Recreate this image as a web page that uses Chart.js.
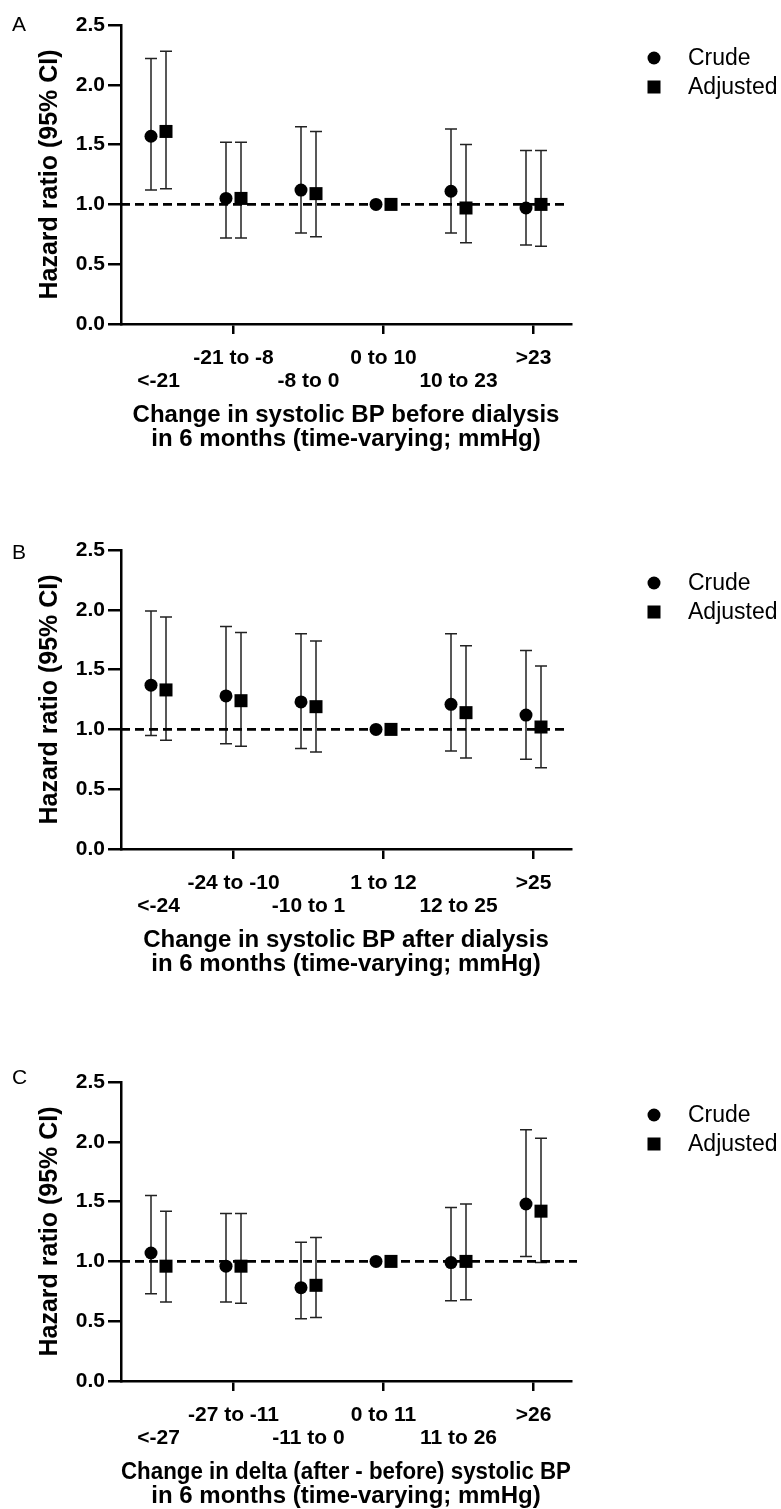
<!DOCTYPE html>
<html>
<head>
<meta charset="utf-8">
<script src="https://cdn.jsdelivr.net/npm/chart.js@4.4.1/dist/chart.umd.min.js"></script>
<style>
  body { margin: 0; background: #fff; width: 781px; height: 1509px; position: relative; overflow: hidden; }
  canvas { position: absolute; left: 0; }
</style>
</head>
<body>
<canvas id="chartA"></canvas>
<canvas id="chartB"></canvas>
<canvas id="chartC"></canvas>
<script>
// Panel A - systolic BP before dialysis
var catsA = ['<-21', '-21 to -8', '-8 to 0', '0 to 10', '10 to 23', '>23'];
var crudeA = [1.57, 1.05, 1.12, 1.00, 1.11, 0.97];
var crudeLoA = [1.12, 0.72, 0.76, null, 0.76, 0.66];
var crudeHiA = [2.22, 1.52, 1.65, null, 1.63, 1.45];
var adjA = [1.61, 1.05, 1.09, 1.00, 0.97, 1.00];
var adjLoA = [1.13, 0.72, 0.73, null, 0.68, 0.65];
var adjHiA = [2.28, 1.52, 1.61, null, 1.50, 1.45];

// Panel B - systolic BP after dialysis
var catsB = ['<-24', '-24 to -10', '-10 to 1', '1 to 12', '12 to 25', '>25'];
var crudeB = [1.37, 1.28, 1.23, 1.00, 1.21, 1.12];
var crudeLoB = [0.95, 0.88, 0.84, null, 0.82, 0.75];
var crudeHiB = [1.99, 1.86, 1.80, null, 1.80, 1.66];
var adjB = [1.33, 1.24, 1.19, 1.00, 1.14, 1.02];
var adjLoB = [0.91, 0.86, 0.81, null, 0.76, 0.68];
var adjHiB = [1.94, 1.81, 1.74, null, 1.70, 1.53];

// Panel C - delta (after - before)
var catsC = ['<-27', '-27 to -11', '-11 to 0', '0 to 11', '11 to 26', '>26'];
var crudeC = [1.07, 0.96, 0.78, 1.00, 0.99, 1.48];
var crudeLoC = [0.73, 0.66, 0.52, null, 0.67, 1.04];
var crudeHiC = [1.55, 1.40, 1.16, null, 1.45, 2.10];
var adjC = [0.96, 0.96, 0.80, 1.00, 1.00, 1.42];
var adjLoC = [0.66, 0.65, 0.53, null, 0.68, 0.99];
var adjHiC = [1.42, 1.40, 1.20, null, 1.48, 2.03];

var yTicks = [0, 0.5, 1.0, 1.5, 2.0, 2.5];
var refValue = 1.0;
var seriesNames = ['Crude', 'Adjusted'];

var FONT = "'Liberation Sans', Arial, sans-serif";
Chart.defaults.font.family = FONT;
Chart.defaults.color = '#000';

// error bars, drawn from each dataset's lo/hi arrays
var errorBars = {
    id: 'errorBars',
    beforeDatasetsDraw: function (chart) {
        var ctx = chart.ctx;
        var x = chart.scales.x, y = chart.scales.y;
        ctx.save();
        ctx.strokeStyle = '#222';
        ctx.lineWidth = 1.5;
        chart.data.datasets.forEach(function (ds) {
            if (!ds.errLo) return;
            ds.data.forEach(function (p, i) {
                if (ds.errLo[i] == null) return;
                var px = x.getPixelForValue(p.x);
                var y1 = y.getPixelForValue(ds.errLo[i]);
                var y2 = y.getPixelForValue(ds.errHi[i]);
                ctx.beginPath();
                ctx.moveTo(px, y1); ctx.lineTo(px, y2);
                ctx.moveTo(px - 6, y1); ctx.lineTo(px + 6, y1);
                ctx.moveTo(px - 6, y2); ctx.lineTo(px + 6, y2);
                ctx.stroke();
            });
        });
        ctx.restore();
    }
};

// panel letter + legend on the right
var sideText = {
    id: 'sideText',
    afterDraw: function (chart, args, opts) {
        var ctx = chart.ctx;
        ctx.save();
        ctx.fillStyle = '#000';
        ctx.font = '21px ' + FONT;
        ctx.textBaseline = 'alphabetic';
        ctx.fillText(opts.letter, 12, opts.letterY);
        ctx.font = '23px ' + FONT;
        ctx.textBaseline = 'middle';
        seriesNames.forEach(function (name, i) {
            var yy = opts.legendY + i * 29;
            if (i === 0) {
                ctx.beginPath();
                ctx.arc(654, yy, 6.5, 0, Math.PI * 2);
                ctx.fill();
            } else {
                ctx.fillRect(647.5, yy - 6.5, 13, 13);
            }
            ctx.fillText(name, 688, yy + 1);
        });
        ctx.restore();
    }
};

function pts(vals, shift) {
    return vals.map(function (v, i) { return { x: i + 1 + shift, y: v }; });
}

function makeChart(id, top, letter, letterY, cats, crude, crudeLo, crudeHi, adj, adjLo, adjHi, refEnd, title) {
    var canvas = document.getElementById(id);
    canvas.style.top = (top - 25) + 'px';
    canvas.width = 781;
    canvas.height = 456;
    return new Chart(canvas.getContext('2d'), {
        type: 'scatter',
        data: {
            datasets: [{
                label: seriesNames[0],
                data: pts(crude, -0.1),
                errLo: crudeLo, errHi: crudeHi,
                pointStyle: 'circle',
                pointRadius: 6.5,
                backgroundColor: '#000',
                borderWidth: 0,
                order: 1
            }, {
                label: seriesNames[1],
                data: pts(adj, 0.1),
                errLo: adjLo, errHi: adjHi,
                pointStyle: 'rect',
                pointRadius: 9.2,
                backgroundColor: '#000',
                borderWidth: 0,
                order: 1
            }, {
                label: 'ref',
                type: 'line',
                data: [{ x: 0.5, y: refValue }, { x: refEnd, y: refValue }],
                borderColor: '#000',
                borderWidth: 2.6,
                borderDash: [9, 5],
                pointRadius: 0,
                clip: false,
                order: 3
            }]
        },
        options: {
            responsive: false,
            animation: false,
            devicePixelRatio: 1,
            layout: { padding: { top: 25, left: 0, right: 210, bottom: 0 } },
            plugins: {
                legend: { display: false },
                tooltip: { enabled: false },
                sideText: { letter: letter, letterY: letterY, legendY: 58 }
            },
            scales: {
                x: {
                    type: 'linear',
                    min: 0.5,
                    max: 6.5,
                    afterBuildTicks: function (s) {
                        s.ticks = cats.map(function (c, i) { return { value: i + 1 }; });
                    },
                    afterFit: function (s) { s.height = 132; },
                    border: { display: true, color: '#000', width: 2.5 },
                    grid: {
                        drawOnChartArea: false,
                        drawTicks: true,
                        tickLength: 10,
                        lineWidth: 2.5,
                        tickColor: function (c) {
                            return c.tick && Math.round(c.tick.value) % 2 === 0 ? '#000' : 'rgba(0,0,0,0)';
                        }
                    },
                    ticks: {
                        autoSkip: false,
                        maxRotation: 0,
                        minRotation: 0,
                        padding: 13,
                        color: '#000',
                        font: { size: 21, weight: 'bold', lineHeight: 1.1 },
                        callback: function (v) {
                            var i = Math.round(v) - 1;
                            return i % 2 === 1 ? [cats[i]] : ['', cats[i]];
                        }
                    },
                    title: {
                        display: true,
                        text: title,
                        color: '#000',
                        font: { size: 24, weight: 'bold', lineHeight: 1.0 },
                        padding: { top: 0, bottom: 5 }
                    }
                },
                y: {
                    min: 0,
                    max: 2.5,
                    afterBuildTicks: function (s) {
                        s.ticks = yTicks.map(function (v) { return { value: v }; });
                    },
                    afterFit: function (s) { s.width = 121; },
                    border: { display: true, color: '#000', width: 2.5 },
                    grid: { drawOnChartArea: false, drawTicks: true, tickLength: 13, lineWidth: 2.5, color: '#000' },
                    ticks: {
                        padding: 3,
                        color: '#000',
                        font: { size: 21, weight: 'bold' },
                        callback: function (v) { return v.toFixed(1); }
                    },
                    title: {
                        display: true,
                        text: 'Hazard ratio (95% CI)',
                        color: '#000',
                        font: { size: 25, weight: 'bold', lineHeight: 1.2 },
                        padding: { top: 35, bottom: 0 }
                    }
                }
            }
        },
        plugins: [errorBars, sideText]
    });
}

makeChart('chartA', 25, 'A', 31, catsA, crudeA, crudeLoA, crudeHiA, adjA, adjLoA, adjHiA, 6.42,
    ['Change in systolic BP before dialysis', 'in 6 months (time-varying; mmHg)']);
makeChart('chartB', 550, 'B', 34, catsB, crudeB, crudeLoB, crudeHiB, adjB, adjLoB, adjHiB, 6.42,
    ['Change in systolic BP after dialysis', 'in 6 months (time-varying; mmHg)']);
makeChart('chartC', 1082, 'C', 27, catsC, crudeC, crudeLoC, crudeHiC, adjC, adjLoC, adjHiC, 6.58,
    ['Change in delta (after - before) systolic BP', 'in 6 months (time-varying; mmHg)']);
</script>
</body>
</html>
